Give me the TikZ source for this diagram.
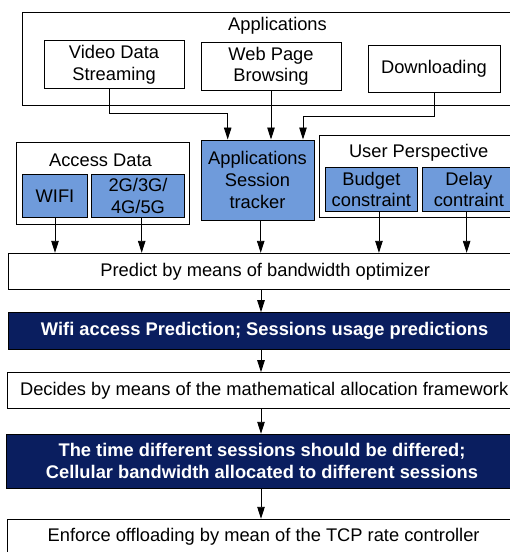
\documentclass[tikz,border=0pt]{standalone}
\usepackage{fontspec}
\setmainfont{Liberation Sans}
\usetikzlibrary{arrows.meta}
\definecolor{cellblue}{RGB}{111,155,219}
\definecolor{navy}{RGB}{10,30,95}
\begin{document}
\begin{tikzpicture}[x=1pt,y=-1pt,
  font=\fontsize{18.3}{21.7}\selectfont,
  box/.style={draw=black, line width=1pt, fill=white, inner sep=0pt, align=center},
  bluebox/.style={box, fill=cellblue},
  darkbox/.style={box, fill=navy, text=white, font=\fontsize{18.3}{21.7}\selectfont\bfseries},
  title/.style={inner sep=0pt, align=center},
  arr/.style={line width=0.9pt, -{Triangle[width=7.5pt,length=12pt]}}]
\useasboundingbox (0,0) rectangle (510,552);
\clip (0,0) rectangle (510,552);

% application layer
\node[box, minimum width=509.3pt, minimum height=92.7pt] (apps) at (277.35,58.65) {};
\node[title] (appstitle) at (277.5,26) {Applications};
\node[box, minimum width=140pt, minimum height=47.6pt] (video) at (114,64.5) {Video Data\\Streaming};
\node[box, minimum width=140pt, minimum height=47.3pt] (web) at (271,66.35) {Web Page\\Browsing};
\node[box, minimum width=132pt, minimum height=47pt] (down) at (434,68.5) {Downloading};

% inputs
\node[box, minimum width=173pt, minimum height=81.7pt] (access) at (102.5,183.15) {};
\node[title] (accesstitle) at (100.5,160) {Access Data};
\node[bluebox, minimum width=64.6pt, minimum height=43pt] (wifi) at (55,195.8) {WIFI};
\node[bluebox, minimum width=92.6pt, minimum height=43pt] (cell) at (138,195.8) {2G/3G/\\4G/5G};

\node[bluebox, minimum width=113pt, minimum height=80pt] (session) at (257.5,180) {Applications\\Session\\tracker};

\node[box, minimum width=199pt, minimum height=82.7pt] (user) at (418.5,176.35) {};
\node[title] (usertitle) at (418.7,153) {User Perspective};
\node[bluebox, minimum width=92.7pt, minimum height=43.3pt] (budget) at (371.35,189.35) {Budget\\constraint};
\node[bluebox, minimum width=92.3pt, minimum height=43.3pt] (delay) at (468.85,189.35) {Delay\\contraint};

% processing chain
\node[box, minimum width=513.7pt, minimum height=36pt] (predict) at (265.15,271.3) {Predict by means of bandwidth optimizer};
\node[darkbox, minimum width=512.7pt, minimum height=36.6pt] (wifipred) at (264.65,331) {Wifi access Prediction; Sessions usage predictions};
\node[box, minimum width=513.7pt, minimum height=35.6pt] (decides) at (264.15,390.5) {Decides by means of the mathematical allocation framework};
\node[darkbox, minimum width=512pt, minimum height=54pt] (time) at (262,461.3) {The time different sessions should be differed;\\Cellular bandwidth allocated to different sessions};
\node[box, minimum width=512.7pt, minimum height=34.8pt] (enforce) at (263.65,536.7) {Enforce offloading by mean of the TCP rate controller};

% application flows into the session tracker
\path ([xshift=-5pt]video.south) coordinate (v0);
\path ([xshift=-29.8pt]session.north) coordinate (v1);
\path ([xshift=45.5pt]session.north) coordinate (d1);
\draw[arr] (v0) -- ++(0,25) -| (v1);
\draw[arr] (web.south) -- (web.south |- session.north);
\draw[arr] (down.south) -- ++(0,24) -| (d1);

% inputs into the optimizer
\path ([xshift=3.7pt]cell.south) coordinate (c0);
\path ([xshift=3.2pt]session.south) coordinate (s0);
\path ([xshift=7.6pt]budget.south) coordinate (b0);
\path ([xshift=-2.2pt]delay.south) coordinate (e0);
\draw[arr] (wifi.south) -- (wifi.south |- predict.north);
\draw[arr] (c0) -- (c0 |- predict.north);
\draw[arr] (s0) -- (s0 |- predict.north);
\draw[arr] (b0) -- (b0 |- predict.north);
\draw[arr] (e0) -- (e0 |- predict.north);

% main spine
\coordinate (spine) at (261,0);
\draw[arr] (predict.south -| spine) -- (wifipred.north -| spine);
\draw[arr] (wifipred.south -| spine) -- (decides.north -| spine);
\draw[arr] (decides.south -| spine) -- (time.north -| spine);
\draw[arr] (time.south -| spine) -- (enforce.north -| spine);
\end{tikzpicture}
\end{document}
